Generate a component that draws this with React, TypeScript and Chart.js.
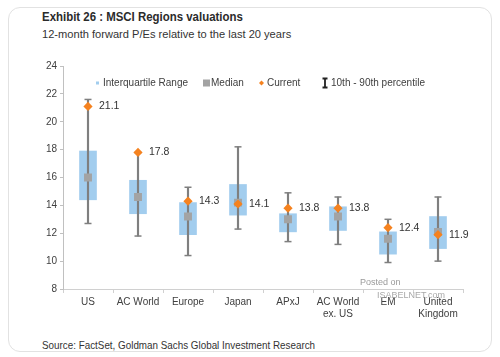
import React, { useEffect, useRef } from "react";
import { Chart, registerables } from "chart.js";

Chart.register(...registerables);

const categories: (string | string[])[] = [
  "US",
  "AC World",
  "Europe",
  "Japan",
  "APxJ",
  ["AC World", "ex. US"],
  "EM",
  ["United", "Kingdom"],
];
const p10 = [12.7, 11.8, 10.4, 12.3, 11.4, 11.2, 9.9, 10.0];
const p90 = [21.6, 17.8, 15.3, 18.2, 14.9, 14.6, 13.0, 14.6];
const q1 = [14.4, 13.4, 11.9, 13.3, 12.1, 12.2, 10.5, 10.9];
const q3 = [17.9, 15.8, 14.2, 15.5, 13.4, 13.9, 12.1, 13.2];
const median = [16.0, 14.6, 13.2, 14.2, 13.0, 13.2, 11.6, 12.1];
const current = [21.1, 17.8, 14.3, 14.1, 13.8, 13.8, 12.4, 11.9];
const yTicks = { min: 8, max: 24, step: 2 };

const BLUE = "#a2cdee";
const GRAY = "#7f7f7f";
const MED = "#a3a3a3";
const ORANGE = "#f5821f";
const TXT = "#404040";
const FONT = "'Liberation Sans', Arial, sans-serif";

const overlayPlugin = {
  id: "overlay",
  afterDatasetsDraw(chart: any) {
    const ctx = chart.ctx;
    const area = chart.chartArea;
    const meta = chart.getDatasetMeta(5);
    ctx.save();
    ctx.font = `10.5px ${FONT}`;
    ctx.fillStyle = "#333";
    ctx.textBaseline = "middle";
    ctx.textAlign = "left";
    meta.data.forEach((pt: any, i: number) => {
      ctx.fillText(current[i].toFixed(1), pt.x + 11, pt.y);
    });
    const ly = area.top + 17;
    const lx = area.left;
    ctx.font = `10px ${FONT}`;
    ctx.fillStyle = BLUE;
    ctx.fillRect(lx + 33, ly - 1.5, 3, 3);
    ctx.fillStyle = TXT;
    ctx.fillText("Interquartile Range", lx + 40, ly);
    ctx.fillStyle = MED;
    ctx.fillRect(lx + 140, ly - 3.5, 7, 7);
    ctx.fillStyle = TXT;
    ctx.fillText("Median", lx + 148, ly);
    ctx.fillStyle = ORANGE;
    ctx.beginPath();
    ctx.moveTo(lx + 198.5, ly - 2.5);
    ctx.lineTo(lx + 201, ly);
    ctx.lineTo(lx + 198.5, ly + 2.5);
    ctx.lineTo(lx + 196, ly);
    ctx.closePath();
    ctx.fill();
    ctx.fillStyle = TXT;
    ctx.fillText("Current", lx + 204, ly);
    ctx.strokeStyle = "#222";
    ctx.lineWidth = 1.8;
    ctx.beginPath();
    ctx.moveTo(lx + 262, ly - 4.5);
    ctx.lineTo(lx + 262, ly + 4.5);
    ctx.moveTo(lx + 259.5, ly - 4.5);
    ctx.lineTo(lx + 264.5, ly - 4.5);
    ctx.moveTo(lx + 259.5, ly + 4.5);
    ctx.lineTo(lx + 264.5, ly + 4.5);
    ctx.stroke();
    ctx.fillText("10th - 90th percentile", lx + 268, ly);
    ctx.restore();
  },
};

function PEChart() {
  const ref = useRef<HTMLCanvasElement>(null);
  useEffect(() => {
    if (!ref.current) return;
    const pointLine = (data: number[], extra: any) => ({
      type: "line",
      data,
      showLine: false,
      pointHoverRadius: 0,
      ...extra,
    });
    const chart = new Chart(ref.current, {
      type: "bar",
      data: {
        labels: categories as any,
        datasets: [
          {
            type: "bar",
            data: categories.map((_, i) => [q1[i], q3[i]]),
            backgroundColor: BLUE,
            barThickness: 17,
            grouped: false,
            order: 6,
          } as any,
          {
            type: "bar",
            data: categories.map((_, i) => [p10[i], p90[i]]),
            backgroundColor: GRAY,
            barThickness: 1.5,
            grouped: false,
            order: 5,
          } as any,
          pointLine(p90, {
            pointStyle: "line",
            pointRadius: 3.5,
            pointBorderColor: GRAY,
            pointBorderWidth: 1.5,
            order: 4,
          }),
          pointLine(p10, {
            pointStyle: "line",
            pointRadius: 3.5,
            pointBorderColor: GRAY,
            pointBorderWidth: 1.5,
            order: 3,
          }),
          pointLine(median, {
            pointStyle: "rect",
            pointRadius: 5.6,
            pointBackgroundColor: MED,
            pointBorderWidth: 0,
            order: 2,
          }),
          pointLine(current, {
            pointStyle: "rectRot",
            pointRadius: 4.6,
            pointBackgroundColor: ORANGE,
            pointBorderWidth: 0,
            order: 1,
          }),
        ] as any,
      },
      options: {
        animation: false,
        responsive: false,
        maintainAspectRatio: false,
        events: [],
        layout: { padding: { top: 11, right: 17, bottom: 6, left: 0 } },
        plugins: { legend: { display: false }, tooltip: { enabled: false } },
        scales: {
          x: {
            offset: true,
            grid: {
              drawOnChartArea: false,
              offset: true,
              tickLength: 4,
              color: "#d0d0d0",
            },
            border: { color: "#d0d0d0" },
            ticks: {
              color: TXT,
              font: { family: FONT, size: 10 },
              padding: 3,
              maxRotation: 0,
              autoSkip: false,
            },
            afterFit: (s: any) => {
              s.height = 30;
            },
          },
          y: {
            min: yTicks.min,
            max: yTicks.max,
            grid: {
              drawOnChartArea: false,
              tickLength: 3,
              color: "#c0c0c0",
            },
            border: { color: "#c0c0c0" },
            ticks: {
              stepSize: yTicks.step,
              color: TXT,
              font: { family: FONT, size: 10 },
              padding: 3,
            },
            afterFit: (s: any) => {
              s.width = 43;
            },
          },
        },
      } as any,
      plugins: [overlayPlugin],
    });
    return () => chart.destroy();
  }, []);
  return (
    <canvas
      ref={ref}
      width={460}
      height={270}
      style={{ position: "absolute", left: 20, top: 55, width: 460, height: 270 }}
    />
  );
}

export default function App() {
  const sans = "'Liberation Sans', Arial, sans-serif";
  const textBase: React.CSSProperties = {
    position: "absolute",
    left: 42,
    fontFamily: sans,
    whiteSpace: "nowrap",
    transformOrigin: "0 0",
    lineHeight: "normal",
  };
  return (
    <div style={{ position: "absolute", left: 0, top: 0, width: 500, height: 357, background: "#fff", overflow: "hidden" }}>
      <div
        style={{
          position: "absolute",
          left: 8,
          top: 7,
          width: 484,
          height: 345,
          boxSizing: "border-box",
          border: "1px solid #e2e2e2",
          borderRadius: 12,
        }}
      />
      <div style={{ ...textBase, top: 9.5, fontWeight: "bold", fontSize: 12.5, color: "#2b2b2b", transform: "scaleX(0.915)" }}>
        Exhibit 26 : MSCI Regions valuations
      </div>
      <div style={{ ...textBase, top: 27.5, fontSize: 11.5, color: "#333", transform: "scaleX(0.965)" }}>
        12-month forward P/Es relative to the last 20 years
      </div>
      <PEChart />
      <div style={{ position: "absolute", left: 360, top: 277, fontFamily: FONT, fontSize: 9, lineHeight: "10px", color: "#9a9a9a", whiteSpace: "nowrap" }}>
        Posted on
      </div>
      <div style={{ position: "absolute", left: 377, top: 290, fontFamily: FONT, fontSize: 9, lineHeight: "10px", color: "#a8a8a8", whiteSpace: "nowrap" }}>
        ISABELNET.com
      </div>
      <div style={{ ...textBase, top: 338.8, fontSize: 11, color: "#333", transform: "scaleX(0.895)" }}>
        Source: FactSet, Goldman Sachs Global Investment Research
      </div>
    </div>
  );
}
